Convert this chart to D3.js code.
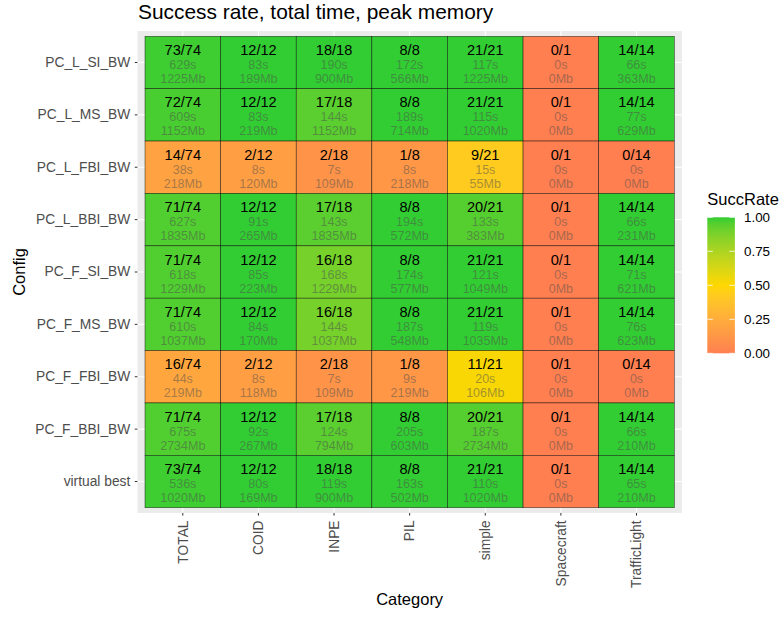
<!DOCTYPE html>
<meta charset="utf-8">
<script src="https://d3js.org/d3.v7.min.js"></script>
<style>
  body { margin: 0; background: #fff; }
  text { font-family: "Liberation Sans", Arial, sans-serif; }
</style>
<div id="chart"></div>
<script>
// categories and configs
const categories = ["TOTAL", "COID", "INPE", "PIL", "simple", "Spacecraft", "TrafficLight"];
const configs = ["PC_L_SI_BW", "PC_L_MS_BW", "PC_L_FBI_BW", "PC_L_BBI_BW", "PC_F_SI_BW",
                 "PC_F_MS_BW", "PC_F_FBI_BW", "PC_F_BBI_BW", "virtual best"];
const totals = [74, 12, 18, 8, 21, 1, 14];

// solved instances per config (rows) and category (cols)
const solved = [
  [73, 12, 18, 8, 21, 0, 14],
  [72, 12, 17, 8, 21, 0, 14],
  [14, 2, 2, 1, 9, 0, 0],
  [71, 12, 17, 8, 20, 0, 14],
  [71, 12, 16, 8, 21, 0, 14],
  [71, 12, 16, 8, 21, 0, 14],
  [16, 2, 2, 1, 11, 0, 0],
  [71, 12, 17, 8, 20, 0, 14],
  [73, 12, 18, 8, 21, 0, 14]
];
// total time in seconds
const times = [
  [629, 83, 190, 172, 117, 0, 66],
  [609, 83, 144, 189, 115, 0, 77],
  [38, 8, 7, 8, 15, 0, 0],
  [627, 91, 143, 194, 133, 0, 66],
  [618, 85, 168, 174, 121, 0, 71],
  [610, 84, 144, 187, 119, 0, 76],
  [44, 8, 7, 9, 20, 0, 0],
  [675, 92, 124, 205, 187, 0, 66],
  [536, 80, 119, 163, 110, 0, 65]
];
// peak memory in Mb
const memory = [
  [1225, 189, 900, 566, 1225, 0, 363],
  [1152, 219, 1152, 714, 1020, 0, 629],
  [218, 120, 109, 218, 55, 0, 0],
  [1835, 265, 1835, 572, 383, 0, 231],
  [1229, 223, 1229, 577, 1049, 0, 621],
  [1037, 170, 1037, 548, 1035, 0, 623],
  [219, 118, 109, 219, 106, 0, 0],
  [2734, 267, 794, 603, 2734, 0, 210],
  [1020, 169, 900, 502, 1020, 0, 210]
];
const legendBreaks = [0, 0.25, 0.5, 0.75, 1];

// flatten into cells
const cells = [];
configs.forEach((cfg, i) => {
  categories.forEach((cat, j) => {
    cells.push({
      config: cfg, category: cat,
      solved: solved[i][j], total: totals[j],
      rate: solved[i][j] / totals[j],
      time: times[i][j], mem: memory[i][j]
    });
  });
});

const W = 782, H = 617;
const svg = d3.select("#chart").append("svg")
  .attr("width", W).attr("height", H);

const x = d3.scaleBand().domain(categories).range([145, 674.3]);
const y = d3.scaleBand().domain(configs).range([36.3, 507.7]);
const color = d3.scaleLinear().domain([0, 0.5, 1])
  .range(["coral", "gold", "limegreen"]).interpolate(d3.interpolateLab);

// panel background
const px0 = x.range()[0] - 0.1 * x.step(), px1 = x.range()[1] + 0.1 * x.step();
const py0 = y.range()[0] - 0.1 * y.step(), py1 = y.range()[1] + 0.1 * y.step();
svg.append("rect")
  .attr("x", px0).attr("y", py0)
  .attr("width", px1 - px0).attr("height", py1 - py0)
  .attr("fill", "#EBEBEB");

// grid lines
svg.append("g").selectAll("line").data(categories).join("line")
  .attr("x1", d => x(d) + x.bandwidth() / 2).attr("x2", d => x(d) + x.bandwidth() / 2)
  .attr("y1", py0).attr("y2", py1)
  .attr("stroke", "#fff").attr("stroke-width", 1.1);
svg.append("g").selectAll("line").data(configs).join("line")
  .attr("y1", d => y(d) + y.bandwidth() / 2).attr("y2", d => y(d) + y.bandwidth() / 2)
  .attr("x1", px0).attr("x2", px1)
  .attr("stroke", "#fff").attr("stroke-width", 1.1);

// tiles
const tile = svg.append("g").selectAll("g").data(cells).join("g")
  .attr("transform", d => `translate(${x(d.category)},${y(d.config)})`);
tile.append("rect")
  .attr("width", x.bandwidth()).attr("height", y.bandwidth())
  .attr("fill", d => color(d.rate))
  .attr("stroke", "#000").attr("stroke-opacity", 0.7).attr("stroke-width", 0.6);

const cx = x.bandwidth() / 2, cy = y.bandwidth() / 2;
tile.append("text")
  .attr("x", cx).attr("y", cy - 7.4)
  .attr("text-anchor", "middle").attr("font-size", 14.6).attr("fill", "#000")
  .text(d => `${d.solved}/${d.total}`);
tile.append("text")
  .attr("x", cx).attr("y", cy + 6.6)
  .attr("text-anchor", "middle").attr("font-size", 12.5)
  .attr("fill", "#4d4d4d").attr("fill-opacity", 0.5)
  .text(d => `${d.time}s`);
tile.append("text")
  .attr("x", cx).attr("y", cy + 20.6)
  .attr("text-anchor", "middle").attr("font-size", 12.5)
  .attr("fill", "#4d4d4d").attr("fill-opacity", 0.5)
  .text(d => `${d.mem}Mb`);

// y axis
const yAxis = svg.append("g").attr("transform", `translate(${px0},0)`)
  .call(d3.axisLeft(y).tickSize(2.7).tickPadding(4.4));
yAxis.select(".domain").remove();
yAxis.selectAll(".tick line").attr("stroke", "#333");
yAxis.selectAll(".tick text").attr("fill", "#4D4D4D").attr("font-size", 13.8);

// x axis
const xAxis = svg.append("g").attr("transform", `translate(0,${py1})`)
  .call(d3.axisBottom(x).tickSize(2.7).tickPadding(3));
xAxis.select(".domain").remove();
xAxis.selectAll(".tick line").attr("stroke", "#333");
xAxis.selectAll(".tick text")
  .attr("fill", "#4D4D4D").attr("font-size", 13.8)
  .attr("transform", "rotate(-90)")
  .attr("text-anchor", "end")
  .attr("x", -7.5).attr("y", 0).attr("dy", "0.35em");

// titles
svg.append("text").attr("x", 138).attr("y", 18.5)
  .attr("font-size", 20.9).attr("fill", "#000")
  .text("Success rate, total time, peak memory");
svg.append("text").attr("x", (px0 + px1) / 2).attr("y", 604.5)
  .attr("text-anchor", "middle").attr("font-size", 16.5).attr("fill", "#000")
  .text("Category");
svg.append("text")
  .attr("transform", `translate(25,${(py0 + py1) / 2}) rotate(-90)`)
  .attr("text-anchor", "middle").attr("font-size", 16.5).attr("fill", "#000")
  .text("Config");

// legend
const lx = 707.3, lw = 27.6, ly0 = 217.3, ly1 = 353.3;
const defs = svg.append("defs");
const grad = defs.append("linearGradient").attr("id", "succGrad")
  .attr("x1", 0).attr("y1", 1).attr("x2", 0).attr("y2", 0);
grad.selectAll("stop").data(d3.range(0, 1.0001, 0.05)).join("stop")
  .attr("offset", d => d).attr("stop-color", d => color(d));
svg.append("rect").attr("x", lx).attr("y", ly0)
  .attr("width", lw).attr("height", ly1 - ly0)
  .attr("fill", "url(#succGrad)");
const ly = d3.scaleLinear().domain([0, 1]).range([ly1, ly0]);
const lg = svg.append("g");
lg.selectAll("line.l").data(legendBreaks).join("line")
  .attr("x1", lx).attr("x2", lx + lw / 5)
  .attr("y1", d => ly(d)).attr("y2", d => ly(d))
  .attr("stroke", "#fff").attr("stroke-width", 0.8);
lg.selectAll("line.r").data(legendBreaks).join("line")
  .attr("x1", lx + lw - lw / 5).attr("x2", lx + lw)
  .attr("y1", d => ly(d)).attr("y2", d => ly(d))
  .attr("stroke", "#fff").attr("stroke-width", 0.8);
lg.selectAll("text").data(legendBreaks).join("text")
  .attr("x", 744).attr("y", d => ly(d)).attr("dy", "0.35em")
  .attr("font-size", 13.4).attr("fill", "#000")
  .text(d => d.toFixed(2));
svg.append("text").attr("x", lx).attr("y", 205)
  .attr("font-size", 16.5).attr("fill", "#000")
  .text("SuccRate");
</script>
